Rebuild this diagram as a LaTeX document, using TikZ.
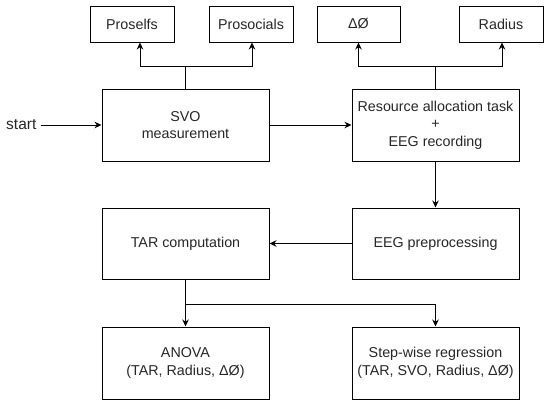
\documentclass[tikz,border=0pt]{standalone}
\usepackage{fontspec}
\setmainfont{Liberation Sans}
\usetikzlibrary{arrows.meta}
\begin{document}
\begin{tikzpicture}[x=1pt,y=-1pt,
  box/.style={draw,line width=1pt,align=center,font=\fontsize{14.3}{17.5}\selectfont,inner sep=0pt,text=black!85},
  conn/.style={line width=1pt},
  arr/.style={line width=1pt,-{Stealth[length=7pt,width=6.5pt]}}]
\useasboundingbox (0,0) rectangle (550,407);
\node[box,minimum width=84pt,minimum height=36pt] (pself) at (132,24) {Proselfs};
\node[box,minimum width=84pt,minimum height=36pt] (psoc) at (251,24) {Prosocials};
\node[box,minimum width=83pt,minimum height=36pt] (dphi) at (358.5,24) {ΔØ};
\node[box,minimum width=84pt,minimum height=36pt] (rad) at (501,24) {Radius};
\node[box,minimum width=167pt,minimum height=72pt] (svo) at (185.5,125) {SVO\\measurement};
\node[box,minimum width=167pt,minimum height=72pt] (res) at (435.5,125) {Resource allocation task\\+\\EEG recording};
\node[box,minimum width=167pt,minimum height=71pt] (pre) at (435.5,243.5) {EEG preprocessing};
\node[box,minimum width=167pt,minimum height=71pt] (tar) at (185.5,243.5) {TAR computation};
\node[box,minimum width=167pt,minimum height=72pt] (anova) at (185.5,363) {ANOVA\\(TAR, Radius, ΔØ)};
\node[box,minimum width=167pt,minimum height=72pt] (step) at (435.5,363) {Step-wise regression\\(TAR, SVO, Radius, ΔØ)};
\node[font=\fontsize{15.5}{18}\selectfont,text=black!85,anchor=west,inner sep=0pt] (start) at (6,125) {start};
\coordinate (s1) at (185.5,66);
\coordinate (s2) at (435.5,66);
\coordinate (s3) at (185.5,304);
\draw[arr] (start.east) ++(4,0) -- (svo.west);
\draw[conn] (svo.north) -- (s1);
\draw[arr] (s1) -| (pself.south -| 140,0);
\draw[arr] (s1) -| (psoc.south -| 252,0);
\draw[conn] (res.north) -- (s2);
\draw[arr] (s2) -| (dphi.south);
\draw[arr] (s2) -| (rad.south -| 502,0);
\draw[arr] (svo.east) -- (res.west);
\draw[arr] (res.south) -- (pre.north);
\draw[arr] (pre.west) -- (tar.east);
\draw[arr] (tar.south) -- (anova.north);
\draw[arr] (s3) -| (step.north);
\end{tikzpicture}
\end{document}
